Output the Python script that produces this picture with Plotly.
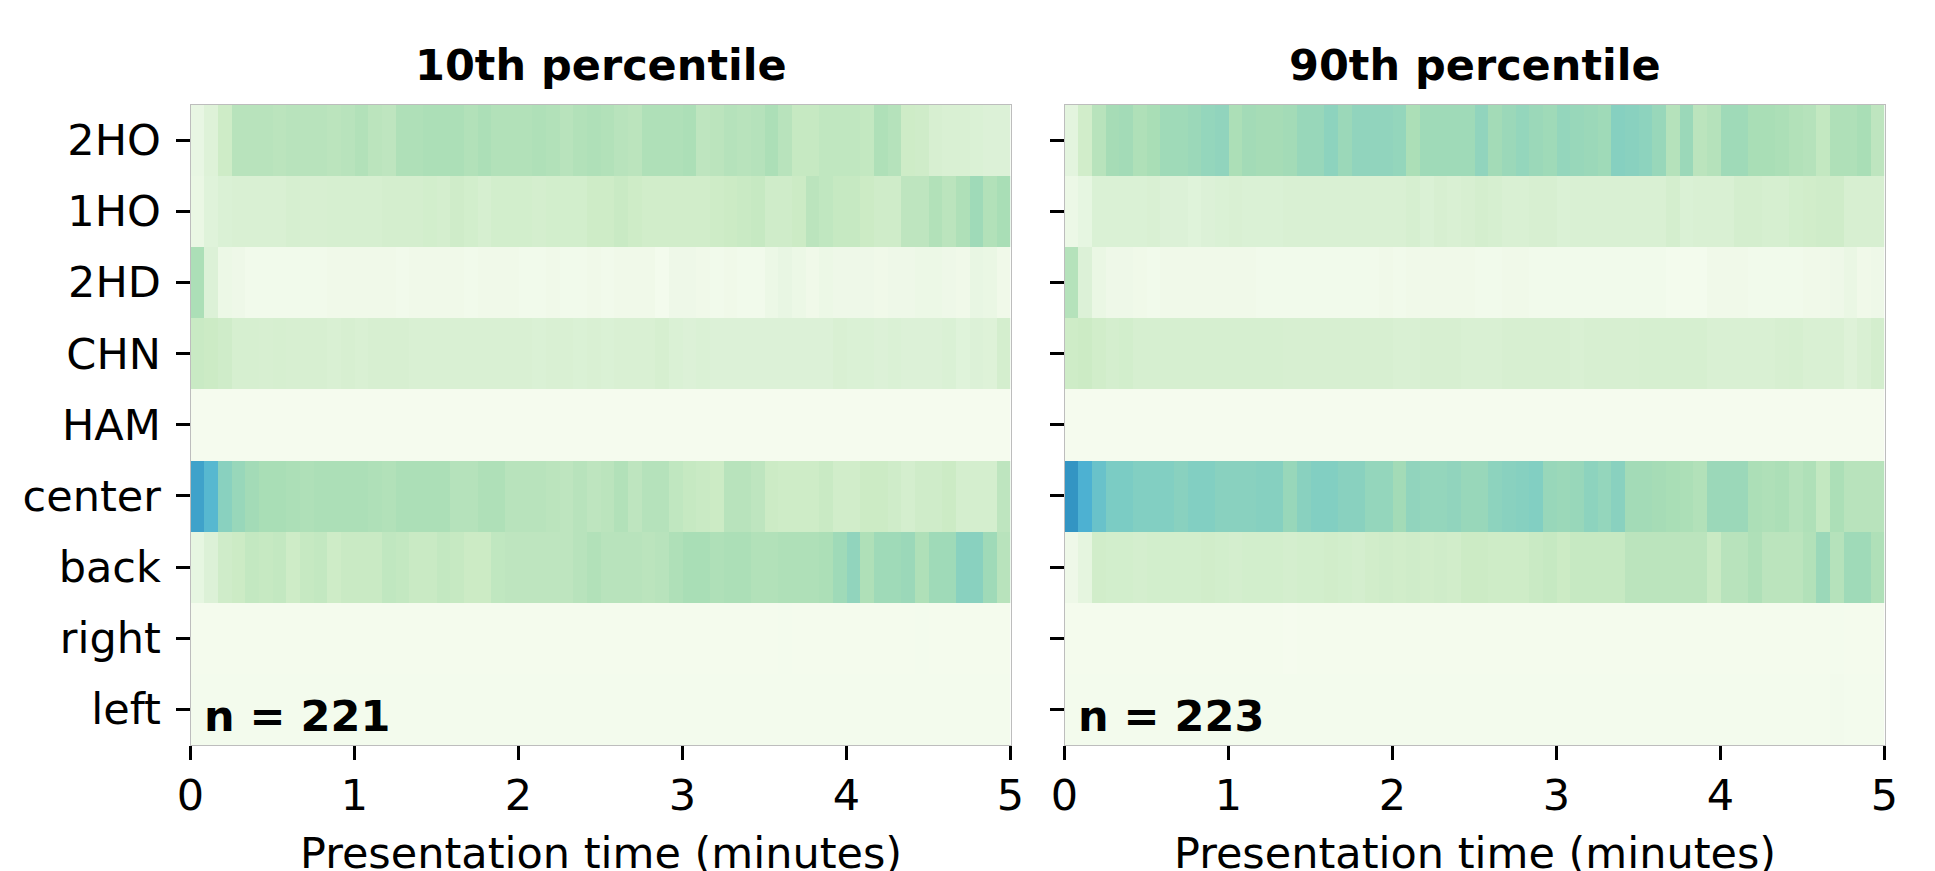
import plotly.graph_objects as go

rows = ["left", "right", "back", "center", "HAM", "CHN", "2HD", "1HO", "2HO"]
time_minutes = [(i + 0.5) * 5 / 60 for i in range(60)]
titles = ["10th percentile", "90th percentile"]
counts = ["n = 221", "n = 223"]
x_ticks = [0, 1, 2, 3, 4, 5]
x_label = "Presentation time (minutes)"

p10_2HO = [.08,.14,.24,.32,.32,.32,.31,.32,.32,.32, .31,.32,.34,.31,.3,.35,.35,.36,.36,.36, .34,.36,.34,.34,.34,.35,.34,.32,.34,.35,
           .34,.32,.31,.35,.35,.35,.36,.3,.31,.33, .32,.33,.36,.32,.27,.27,.29,.29,.29,.28, .35,.33,.24,.23,.18,.17,.17,.16,.15,.15]
p10_1HO = [.07,.13,.16,.17,.17,.17,.17,.19,.18,.18, .19,.19,.19,.19,.2,.2,.2,.21,.2,.23, .21,.19,.21,.21,.21,.2,.21,.21,.21,.24,
           .24,.26,.24,.22,.22,.22,.22,.22,.24,.25, .26,.27,.23,.23,.25,.31,.29,.27,.27,.25, .23,.23,.3,.3,.34,.31,.35,.4,.34,.37]
p10_2HD = [.36,.15,.06,.05,.03,.03,.03,.03,.03,.03, .04,.04,.04,.04,.04,.03,.04,.04,.04,.04, .03,.04,.04,.04,.03,.03,.04,.03,.03,.04,
           .03,.04,.04,.04,.02,.05,.05,.04,.03,.04, .03,.03,.06,.08,.06,.04,.06,.05,.05,.05, .04,.05,.05,.06,.06,.05,.04,.08,.07,.04]
p10_CHN = [.26,.25,.23,.19,.19,.18,.19,.18,.18,.18, .17,.18,.17,.18,.18,.18,.17,.17,.17,.17, .17,.17,.17,.17,.17,.16,.17,.17,.16,.17,
           .16,.17,.17,.17,.19,.16,.15,.16,.15,.15, .15,.15,.15,.15,.15,.15,.15,.17,.16,.16, .15,.16,.15,.15,.15,.16,.13,.15,.14,.2]
p10_HAM = [.01,.01,.01,.01,.01,.01,.01,.01,.01,.01, .01,.01,.01,.01,.01,.01,.01,.01,.01,.01, .01,.01,.01,.01,.01,.01,.01,.01,.01,.01,
           .01,.01,.01,.01,.01,.01,.01,.01,.01,.01, .01,.01,.01,.01,.01,.01,.01,.01,.01,.01, .01,.01,.01,.01,.01,.01,.01,.01,.01,.01]
p10_center = [.68,.6,.46,.42,.39,.37,.37,.36,.35,.36, .36,.36,.36,.35,.34,.36,.36,.36,.36,.33, .33,.35,.35,.32,.32,.32,.31,.3,.32,.3,
              .31,.34,.3,.33,.33,.29,.27,.26,.25,.32, .32,.3,.25,.24,.24,.24,.26,.22,.22,.25, .25,.23,.2,.23,.23,.25,.2,.2,.2,.3]
p10_back = [.09,.15,.23,.25,.28,.27,.28,.24,.27,.28, .24,.26,.26,.26,.29,.28,.26,.26,.28,.27, .25,.25,.29,.3,.3,.3,.3,.3,.32,.34,
            .32,.32,.32,.31,.32,.35,.37,.37,.35,.36, .36,.34,.34,.35,.35,.35,.36,.4,.44,.35, .4,.4,.41,.35,.4,.4,.46,.46,.4,.32]
p10_right = [.015,.015,.015,.015,.015,.015,.015,.015,.015,.015, .015,.015,.015,.015,.015,.015,.015,.015,.015,.015, .015,.015,.015,.015,.015,.015,.015,.015,.015,.015,
             .015,.015,.015,.015,.015,.015,.015,.015,.015,.015, .015,.015,.015,.02,.015,.015,.015,.015,.015,.015, .015,.015,.015,.02,.015,.015,.015,.015,.015,.015]
p10_left = [.02,.02,.02,.02,.02,.02,.02,.02,.02,.02, .02,.02,.02,.02,.02,.02,.02,.02,.02,.02, .02,.02,.02,.02,.02,.02,.02,.02,.02,.02,
            .02,.02,.02,.02,.02,.02,.02,.02,.02,.02, .02,.02,.02,.02,.02,.02,.02,.02,.02,.02, .02,.02,.02,.02,.02,.02,.02,.02,.02,.02]

p90_2HO = [.11,.22,.32,.38,.39,.35,.37,.4,.4,.41, .43,.44,.36,.39,.38,.38,.39,.42,.42,.45, .41,.44,.44,.44,.43,.36,.4,.4,.4,.4,
           .44,.39,.41,.43,.41,.4,.43,.42,.41,.4, .47,.46,.45,.42,.33,.41,.31,.33,.4,.4, .37,.37,.36,.34,.33,.28,.35,.35,.37,.3]
p90_1HO = [.06,.09,.16,.16,.16,.16,.17,.15,.15,.13, .15,.16,.17,.16,.16,.16,.17,.17,.17,.17, .17,.17,.17,.17,.17,.19,.16,.18,.17,.18,
           .2,.19,.17,.17,.18,.18,.16,.17,.17,.17, .17,.17,.17,.17,.2,.16,.17,.17,.17,.2, .2,.19,.19,.21,.22,.23,.23,.18,.18,.18]
p90_2HD = [.33,.15,.07,.05,.05,.04,.03,.04,.04,.04, .04,.04,.04,.04,.03,.03,.03,.03,.03,.03, .03,.03,.03,.04,.03,.04,.04,.04,.04,.04,
           .03,.03,.04,.04,.03,.03,.03,.03,.03,.03, .03,.03,.03,.03,.02,.02,.02,.04,.04,.04, .03,.03,.03,.03,.04,.04,.05,.07,.04,.05]
p90_CHN = [.24,.25,.22,.2,.21,.19,.19,.19,.19,.19, .19,.19,.19,.19,.19,.19,.18,.18,.18,.18, .18,.18,.18,.18,.17,.17,.18,.18,.18,.17,
           .17,.17,.18,.18,.18,.18,.18,.17,.18,.18, .18,.18,.19,.19,.19,.19,.19,.17,.17,.17, .17,.17,.18,.19,.17,.17,.17,.14,.17,.2]
p90_HAM = [.01,.01,.01,.01,.01,.01,.01,.01,.01,.01, .01,.01,.01,.01,.01,.01,.01,.01,.01,.01, .01,.01,.01,.01,.01,.01,.01,.01,.01,.01,
           .01,.01,.01,.01,.01,.01,.01,.01,.01,.01, .01,.01,.01,.01,.01,.01,.01,.01,.01,.01, .01,.01,.01,.01,.01,.01,.01,.01,.01,.01]
p90_center = [.72,.63,.55,.5,.5,.48,.48,.48,.46,.48, .48,.46,.46,.46,.47,.47,.42,.46,.48,.48, .46,.46,.43,.43,.39,.44,.43,.43,.44,.42,
              .42,.45,.46,.47,.48,.42,.41,.42,.45,.43, .46,.39,.39,.38,.37,.36,.34,.41,.41,.41, .36,.35,.36,.33,.35,.28,.36,.32,.32,.32]
p90_back = [.05,.1,.22,.21,.21,.2,.21,.21,.21,.21, .22,.21,.2,.21,.21,.21,.2,.21,.21,.22, .21,.2,.22,.23,.22,.23,.22,.23,.22,.25,
            .25,.24,.24,.24,.26,.27,.25,.27,.27,.27, .27,.31,.31,.31,.31,.31,.31,.26,.32,.32, .35,.31,.31,.31,.34,.41,.33,.4,.4,.35]
p90_right = [.015,.015,.015,.015,.015,.015,.015,.015,.015,.015, .015,.015,.015,.015,.015,.015,.012,.015,.015,.015, .015,.015,.015,.015,.015,.015,.015,.015,.015,.015,
             .015,.015,.015,.015,.015,.015,.015,.015,.015,.015, .015,.015,.015,.015,.015,.015,.015,.015,.015,.015, .015,.015,.015,.015,.015,.015,.02,.015,.015,.015]
p90_left = [.02,.02,.02,.02,.02,.02,.02,.02,.02,.02, .02,.02,.02,.02,.02,.02,.02,.02,.02,.02, .02,.02,.02,.02,.02,.02,.02,.02,.02,.02,
            .02,.02,.02,.02,.02,.02,.02,.02,.02,.02, .02,.02,.02,.02,.02,.02,.02,.02,.02,.02, .02,.02,.02,.02,.02,.02,.025,.02,.02,.02]

p10 = [p10_left, p10_right, p10_back, p10_center, p10_HAM, p10_CHN, p10_2HD, p10_1HO, p10_2HO]
p90 = [p90_left, p90_right, p90_back, p90_center, p90_HAM, p90_CHN, p90_2HD, p90_1HO, p90_2HO]

GNBU = [[0, "#f7fcf0"], [.125, "#e0f3db"], [.25, "#ccebc5"], [.375, "#a8ddb5"], [.5, "#7bccc4"],
        [.625, "#4eb3d3"], [.75, "#2b8cbe"], [.875, "#0868ac"], [1, "#084081"]]
W, H = 1935, 871
FONT = "DejaVu Sans"
FS = 43
ML, MR = 15, 15
L1, R1, L2, R2, T, B = 190.5, 1010.5, 1064.5, 1884.5, 104.5, 745

def dx(px):
    return (px - ML) / (W - ML - MR)

fig = go.Figure()
for z, xa, ya in [(p10, "x", "y"), (p90, "x2", "y2")]:
    fig.add_trace(go.Heatmap(z=z, x=time_minutes, y=rows, xaxis=xa, yaxis=ya,
                             coloraxis="coloraxis", xgap=0, ygap=0))

tfont = dict(family=FONT, size=FS, color="black")
x_common = dict(range=[0, 5], tickvals=x_ticks, ticks="outside", ticklen=14, tickwidth=2.5,
                tickcolor="black", showline=True, mirror=True, linecolor="#bdbdbd", linewidth=1,
                showgrid=False, zeroline=False, tickfont=tfont, ticklabelstandoff=-2)
y_common = dict(ticks="outside", ticklen=14, tickwidth=2.5, tickcolor="black", showline=True, mirror=True,
                linecolor="#bdbdbd", linewidth=1, showgrid=False, zeroline=False,
                tickfont=tfont, categoryorder="array", categoryarray=rows,
                domain=[1 - B / H, 1 - T / H])

def label(text, xref, yref, x, y, **kw):
    return dict(text=text, xref=xref, yref=yref, x=x, y=y, showarrow=False, font=tfont, **kw)

fig.update_layout(
    width=W, height=H, margin=dict(l=ML, r=MR, t=0, b=0), paper_bgcolor="white", plot_bgcolor="white",
    coloraxis=dict(colorscale=GNBU, cmin=0, cmax=1, showscale=False),
    xaxis=dict(domain=[dx(L1), dx(R1)], anchor="y", **x_common),
    xaxis2=dict(domain=[dx(L2), dx(R2)], anchor="y2", **x_common),
    yaxis=dict(anchor="x", ticklabelstandoff=6, **y_common),
    yaxis2=dict(anchor="x2", showticklabels=False, **y_common),
    annotations=[
        label(f"<b>{titles[0]}</b>", "x domain", "y domain", 0.5, 1, yshift=12, yanchor="bottom"),
        label(f"<b>{titles[1]}</b>", "x2 domain", "y2 domain", 0.5, 1, yshift=12, yanchor="bottom"),
        label(f"<b>{counts[0]}</b>", "x domain", "y domain", 0.014, 0.045, xanchor="left", yanchor="middle"),
        label(f"<b>{counts[1]}</b>", "x2 domain", "y2 domain", 0.014, 0.045, xanchor="left", yanchor="middle"),
        label(x_label, "x domain", "paper", 0.5, 1 - 853 / H, yanchor="middle"),
        label(x_label, "x2 domain", "paper", 0.5, 1 - 853 / H, yanchor="middle"),
    ],
)
fig.write_html("out.html", config={"displayModeBar": False},
               post_script="document.body.style.margin='0';document.body.style.overflow='hidden';")
